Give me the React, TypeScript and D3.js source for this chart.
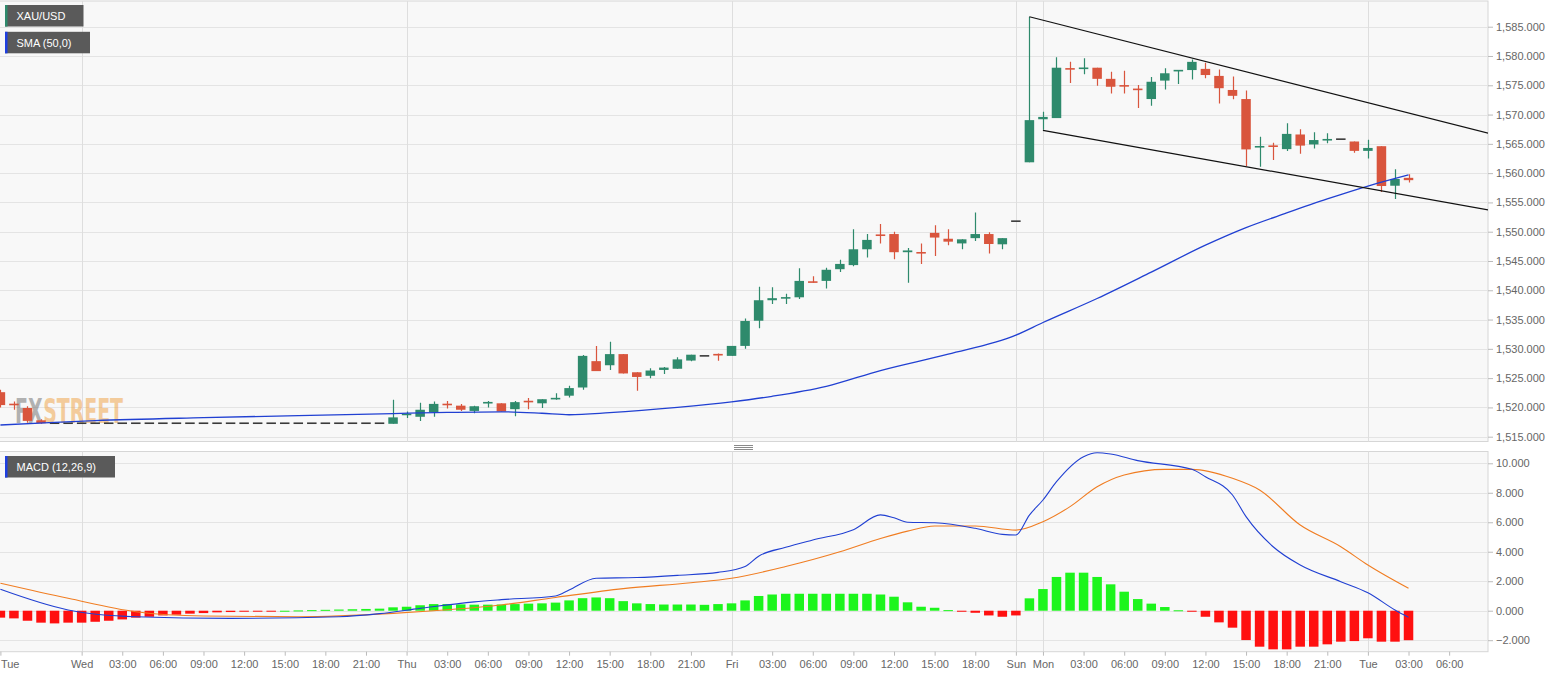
import { useEffect, useRef } from 'react';
import * as d3 from 'd3';

const W = 1565;
const H = 678;
const FONT = '"Liberation Sans", Arial, sans-serif';

// hourly bars, bar index 0 = Wed 00:00, first bar drawn = index -6 (Tue 18:00)
const FIRST = -6;

// [open, high, low, close]
const candles: [number, number, number, number][] = [
  [1522.6, 1523.0, 1520.0, 1520.4], [1520.5, 1521.0, 1519.6, 1520.3], [1519.9, 1520.2, 1517.4, 1517.7],
  [1517.8, 1518.0, 1517.2, 1517.3],
  [1517.3, 1517.3, 1517.3, 1517.3], [1517.3, 1517.3, 1517.3, 1517.3], [1517.3, 1517.3, 1517.3, 1517.3],
  [1517.3, 1517.3, 1517.3, 1517.3], [1517.3, 1517.3, 1517.3, 1517.3], [1517.3, 1517.3, 1517.3, 1517.3],
  [1517.3, 1517.3, 1517.3, 1517.3], [1517.3, 1517.3, 1517.3, 1517.3], [1517.3, 1517.3, 1517.3, 1517.3],
  [1517.3, 1517.3, 1517.3, 1517.3], [1517.3, 1517.3, 1517.3, 1517.3], [1517.3, 1517.3, 1517.3, 1517.3],
  [1517.3, 1517.3, 1517.3, 1517.3], [1517.3, 1517.3, 1517.3, 1517.3], [1517.3, 1517.3, 1517.3, 1517.3],
  [1517.3, 1517.3, 1517.3, 1517.3], [1517.3, 1517.3, 1517.3, 1517.3], [1517.3, 1517.3, 1517.3, 1517.3],
  [1517.3, 1517.3, 1517.3, 1517.3], [1517.3, 1517.3, 1517.3, 1517.3], [1517.3, 1517.3, 1517.3, 1517.3],
  [1517.3, 1517.3, 1517.3, 1517.3], [1517.3, 1517.3, 1517.3, 1517.3], [1517.3, 1517.3, 1517.3, 1517.3],
  [1517.3, 1517.3, 1517.3, 1517.3],
  [1517.2, 1521.3, 1517.2, 1518.3], [1518.6, 1519.3, 1518.2, 1518.8], [1518.4, 1520.8, 1517.7, 1519.6],
  [1519.2, 1521.0, 1518.4, 1520.6], [1520.5, 1521.1, 1519.8, 1520.3], [1520.3, 1520.6, 1519.4, 1519.6],
  [1519.4, 1520.3, 1519.0, 1520.2], [1520.6, 1521.1, 1520.0, 1520.8], [1520.7, 1520.7, 1519.3, 1519.3],
  [1519.7, 1521.1, 1518.5, 1520.9], [1521.0, 1521.6, 1519.7, 1520.9], [1520.7, 1521.4, 1519.9, 1521.4],
  [1521.3, 1522.4, 1521.3, 1521.5], [1522.0, 1523.7, 1521.7, 1523.3], [1523.4, 1528.95, 1523.0, 1528.8],
  [1527.9, 1530.5, 1526.2, 1526.2], [1527.2, 1531.2, 1526.4, 1529.1], [1529.1, 1529.1, 1525.8, 1525.8],
  [1526.0, 1526.0, 1522.85, 1525.2], [1525.4, 1526.7, 1525.0, 1526.3], [1526.4, 1526.9, 1525.7, 1526.8],
  [1526.6, 1528.55, 1526.6, 1528.2], [1528.0, 1529.0, 1527.9, 1529.0], [1528.8, 1528.8, 1528.8, 1528.8],
  [1529.0, 1529.2, 1527.97, 1528.9], [1528.8, 1530.5, 1528.8, 1530.5], [1530.5, 1535.2, 1530.0, 1534.75],
  [1534.8, 1540.6, 1533.5, 1538.3], [1538.3, 1540.5, 1537.65, 1538.65], [1538.5, 1539.4, 1537.65, 1538.7],
  [1538.8, 1543.75, 1538.5, 1541.6], [1541.4, 1542.4, 1541.3, 1541.3], [1541.6, 1543.85, 1540.3, 1543.5],
  [1543.6, 1545.2, 1543.1, 1544.5], [1544.3, 1550.4, 1544.1, 1547.0], [1547.0, 1549.6, 1545.6, 1548.6],
  [1549.4, 1551.3, 1548.0, 1549.2], [1549.6, 1550.0, 1545.3, 1546.5], [1546.5, 1547.2, 1541.3, 1546.8],
  [1546.4, 1548.0, 1544.5, 1546.2], [1549.8, 1551.1, 1545.85, 1549.0], [1548.8, 1550.4, 1547.7, 1548.3],
  [1548.0, 1548.7, 1547.0, 1548.7], [1548.9, 1553.3, 1548.4, 1549.6], [1549.6, 1549.9, 1546.3, 1547.9],
  [1547.85, 1548.9, 1547.0, 1548.9], [1551.8, 1551.8, 1551.8, 1551.8], [1561.85, 1586.7, 1561.85, 1569.05],
  [1569.2, 1570.5, 1567.4, 1569.6], [1569.4, 1579.8, 1569.4, 1578.0], [1577.8, 1579.0, 1575.4, 1577.6],
  [1577.7, 1579.6, 1576.9, 1577.9], [1578.0, 1578.0, 1574.9, 1576.1], [1576.1, 1577.3, 1573.6, 1574.75],
  [1574.9, 1577.5, 1573.6, 1574.7], [1574.3, 1575.05, 1571.1, 1574.1], [1572.65, 1576.4, 1571.5, 1575.6],
  [1575.8, 1577.9, 1574.3, 1577.05], [1577.3, 1577.6, 1575.2, 1577.5], [1577.6, 1579.4, 1576.0, 1579.0],
  [1577.8, 1578.85, 1576.2, 1576.75], [1576.6, 1577.7, 1571.9, 1574.5], [1574.2, 1576.5, 1572.6, 1573.2],
  [1572.65, 1574.1, 1561.2, 1564.05], [1564.3, 1566.2, 1561.1, 1564.5], [1564.6, 1565.2, 1562.25, 1564.4],
  [1564.1, 1568.5, 1563.8, 1566.7], [1566.6, 1567.5, 1563.3, 1564.7], [1564.9, 1567.0, 1564.2, 1565.65],
  [1565.55, 1566.8, 1565.1, 1565.7], [1565.8, 1565.8, 1565.8, 1565.8], [1565.4, 1565.4, 1563.5, 1563.8],
  [1563.8, 1565.7, 1562.5, 1564.3], [1564.6, 1564.6, 1556.8, 1557.8], [1557.85, 1560.65, 1555.6, 1559.0],
  [1559.2, 1559.8, 1558.4, 1558.8],
];

// SMA (50) read at bar indices
const smaPoints: [number, number][] = [
  [-6, 1517.0], [-2, 1517.45], [1, 1517.75], [9, 1518.25], [16, 1518.6], [23, 1518.95], [27, 1519.15],
  [31, 1519.25], [34, 1519.0], [36, 1518.75], [39, 1519.1], [44, 1520.0], [48, 1520.95], [51, 1521.9],
  [55, 1523.6], [59, 1526.3], [64, 1529.1], [69, 1532.35], [71, 1534.5], [75, 1538.6], [79, 1543.1],
  [83, 1547.7], [86, 1550.7], [89, 1553.2], [92, 1555.6], [95, 1557.8], [98, 1559.7],
];

// drawn channel lines [bar index, price]
const channelUpper: [number, number][] = [[70, 1586.7], [103.9, 1566.8]];
const channelLower: [number, number][] = [[71, 1567.3], [103.9, 1553.7]];

// MACD histogram per bar, from index -6
const histogram: number[] = [
  -0.47, -0.52, -0.68, -0.81, -0.86, -0.81, -0.81, -0.75, -0.68, -0.59, -0.47, -0.41, -0.32, -0.27, -0.2,
  -0.16, -0.11, -0.09, -0.07, -0.04, -0.02, 0.0, 0.02, 0.04, 0.06, 0.08, 0.1, 0.12, 0.14, 0.23, 0.27, 0.37,
  0.45, 0.45, 0.43, 0.41, 0.41, 0.42, 0.45, 0.48, 0.5, 0.55, 0.7, 0.85, 0.9, 0.85, 0.65, 0.5, 0.45, 0.42,
  0.42, 0.42, 0.4, 0.45, 0.5, 0.7, 1.0, 1.1, 1.15, 1.15, 1.15, 1.15, 1.15, 1.15, 1.15, 1.1, 0.95, 0.57,
  0.27, 0.2, 0.04, -0.07, -0.14, -0.32, -0.41, -0.32, 0.84, 1.47, 2.29, 2.58, 2.58, 2.29, 1.79, 1.29, 0.79,
  0.48, 0.25, 0.03, -0.07, -0.41, -0.79, -1.15, -1.99, -2.44, -2.62, -2.62, -2.44, -2.44, -2.28, -2.1,
  -2.06, -1.87, -2.1, -2.1, -2.0,
];

const macdPoints: [number, number][] = [
  [-6, 1.45], [-1, 0.05], [4, -0.41], [11, -0.52], [19, -0.41], [22, -0.2], [25, 0.16], [29, 0.6],
  [31, 0.75], [35, 1.0], [36, 1.4], [38, 2.2], [41, 2.25], [44, 2.4], [47, 2.6], [49, 3.0], [50, 3.7],
  [52, 4.3], [54, 4.8], [57, 5.5], [59, 6.5], [60, 6.3], [61, 6.0], [63, 5.97], [66, 5.59], [68, 5.18],
  [69, 5.14], [70, 6.49], [71, 7.51], [72, 8.75], [74, 10.45], [75, 10.72], [76, 10.63], [78, 10.18],
  [82, 9.59], [83, 9.09], [85, 7.85], [86, 6.38], [88, 4.34], [90, 3.1], [93, 1.97], [95, 1.22],
  [97, 0.05], [98, -0.45],
];

const signalPoints: [number, number][] = [
  [-6, 1.86], [-1, 0.84], [4, -0.07], [9, -0.36], [16, -0.41], [23, -0.18], [26, 0.0], [31, 0.39],
  [35, 0.9], [40, 1.5], [45, 1.9], [48, 2.2], [52, 3.0], [56, 4.0], [59, 4.9], [61, 5.4], [63, 5.75],
  [66, 5.75], [69, 5.47], [71, 6.04], [73, 7.06], [75, 8.41], [77, 9.21], [80, 9.59], [82, 9.59],
  [85, 8.98], [87, 8.19], [90, 5.81], [93, 4.34], [95, 3.1], [98, 1.52],
];

const priceTicks = [1515, 1520, 1525, 1530, 1535, 1540, 1545, 1550, 1555, 1560, 1565, 1570, 1575, 1580, 1585];
const macdTicks = [-2, 0, 2, 4, 6, 8, 10];
const timeTickIdx = [
  -6, 0, 3, 6, 9, 12, 15, 18, 21, 24, 27, 30, 33, 36, 39, 42, 45, 48, 51, 54, 57, 60, 63, 66, 69, 71,
  74, 77, 80, 83, 86, 89, 92, 95, 98, 101,
];
const timeTickLabels = [
  'Tue', 'Wed', '03:00', '06:00', '09:00', '12:00', '15:00', '18:00', '21:00', 'Thu', '03:00', '06:00',
  '09:00', '12:00', '15:00', '18:00', '21:00', 'Fri', '03:00', '06:00', '09:00', '12:00', '15:00', '18:00',
  'Sun', 'Mon', '03:00', '06:00', '09:00', '12:00', '15:00', '18:00', '21:00', 'Tue', '03:00', '06:00',
];
const dayLines = [0, 24, 48, 69, 71, 95];

const UP = '#2e8a6c';
const DOWN = '#d9553d';
const FLAT = '#3a3a3a';

export default function App() {
  const svgRef = useRef<SVGSVGElement | null>(null);

  useEffect(() => {
    if (!svgRef.current) return;
    const svg = d3.select(svgRef.current);
    svg.selectAll('*').remove();

    const plotRight = 1488;
    const main = { top: 1, bottom: 441.5 };
    const sub = { top: 451.5, bottom: 651.7 };

    const x = d3.scaleLinear().domain([-6.03, 103.87]).range([0, plotRight]);
    const y = d3.scaleLinear().domain([1514.18, 1589.39]).range([main.bottom, main.top]);
    const ym = d3.scaleLinear().domain([-2.78, 10.8]).range([sub.bottom, sub.top]);
    const bw = 9.5;

    const defs = svg.append('defs');
    defs.append('clipPath').attr('id', 'clipMain').append('rect')
      .attr('x', 0).attr('y', main.top).attr('width', plotRight).attr('height', main.bottom - main.top);
    defs.append('clipPath').attr('id', 'clipSub').append('rect')
      .attr('x', 0).attr('y', sub.top).attr('width', plotRight).attr('height', sub.bottom - sub.top);

    // panel backgrounds
    [main, sub].forEach(p => {
      svg.append('rect')
        .attr('x', -1).attr('y', p.top).attr('width', plotRight + 1).attr('height', p.bottom - p.top)
        .attr('fill', '#f8f8f8').attr('stroke', '#d6d6d6');
    });

    // grid
    svg.append('g').selectAll('line').data(priceTicks).join('line')
      .attr('x1', 0).attr('x2', plotRight)
      .attr('y1', d => Math.round(y(d)) + 0.5).attr('y2', d => Math.round(y(d)) + 0.5)
      .attr('stroke', '#e4e4e4');
    svg.append('g').selectAll('line').data(macdTicks).join('line')
      .attr('x1', 0).attr('x2', plotRight)
      .attr('y1', d => Math.round(ym(d)) + 0.5).attr('y2', d => Math.round(ym(d)) + 0.5)
      .attr('stroke', '#e4e4e4');
    [main, sub].forEach(p => {
      svg.append('g').selectAll('line').data(dayLines).join('line')
        .attr('x1', d => Math.round(x(d)) + 0.5).attr('x2', d => Math.round(x(d)) + 0.5)
        .attr('y1', p.top).attr('y2', p.bottom)
        .attr('stroke', '#dedede');
    });

    // FXStreet logo, squeezed to its width in the picture
    const logo = svg.append('g').attr('opacity', 0.5);
    const fx = logo.append('text').attr('x', 0).attr('y', 0)
      .attr('font-family', '"DejaVu Sans Condensed", "DejaVu Sans", sans-serif')
      .attr('font-weight', 'bold').attr('font-size', 34).attr('fill', '#6d6d6d').text('FX');
    const fxW = (fx.node() as SVGTextElement).getComputedTextLength();
    const st = logo.append('text').attr('x', fxW + 1).attr('y', 0)
      .attr('font-family', '"DejaVu Sans Condensed", "DejaVu Sans", sans-serif')
      .attr('font-weight', 'bold').attr('font-size', 34).attr('fill', '#f0a040').text('STREET');
    const stW = (st.node() as SVGTextElement).getComputedTextLength();
    const sx = 108 / (fxW + 1 + stW || 1);
    logo.attr('transform', `translate(15,423) scale(${sx},1)`);

    // candles
    const gMain = svg.append('g').attr('clip-path', 'url(#clipMain)');
    const bars = candles.map((c, k) => ({ i: FIRST + k, o: c[0], h: c[1], l: c[2], c: c[3] }));
    const colorOf = (d: { o: number; c: number }) => (d.c > d.o ? UP : d.c < d.o ? DOWN : FLAT);

    gMain.selectAll('.wick').data(bars.filter(d => d.h > d.l)).join('line')
      .attr('class', 'wick')
      .attr('x1', d => Math.round(x(d.i)) + 0.5).attr('x2', d => Math.round(x(d.i)) + 0.5)
      .attr('y1', d => y(d.h)).attr('y2', d => y(d.l))
      .attr('stroke', colorOf).attr('stroke-width', 1.2);

    gMain.selectAll('.body').data(bars).join('rect')
      .attr('class', 'body')
      .attr('x', d => x(d.i) - bw / 2)
      .attr('y', d => Math.min(y(d.o), y(d.c)) - (Math.abs(y(d.o) - y(d.c)) < 1.6 ? 0.8 : 0))
      .attr('width', bw)
      .attr('height', d => Math.max(1.6, Math.abs(y(d.o) - y(d.c))))
      .attr('fill', colorOf);

    // SMA
    const line = d3.line<[number, number]>().x(d => x(d[0])).y(d => y(d[1])).curve(d3.curveMonotoneX);
    gMain.append('path').datum(smaPoints).attr('d', line)
      .attr('fill', 'none').attr('stroke', '#2140d2').attr('stroke-width', 1.3);

    // channel
    const straight = d3.line<[number, number]>().x(d => x(d[0])).y(d => y(d[1]));
    [channelUpper, channelLower].forEach(c => {
      gMain.append('path').datum(c).attr('d', straight)
        .attr('fill', 'none').attr('stroke', '#111').attr('stroke-width', 1.2);
    });

    // MACD panel
    const gSub = svg.append('g').attr('clip-path', 'url(#clipSub)');
    const hist = histogram.map((v, k) => ({ i: FIRST + k, v }));
    gSub.selectAll('.hist').data(hist).join('rect')
      .attr('class', 'hist')
      .attr('x', d => x(d.i) - bw / 2)
      .attr('y', d => Math.min(ym(0), ym(d.v)))
      .attr('width', bw)
      .attr('height', d => Math.max(1, Math.abs(ym(d.v) - ym(0))))
      .attr('fill', d => (d.v >= 0 ? '#1cf51c' : '#ff1010'));

    const mline = d3.line<[number, number]>().x(d => x(d[0])).y(d => ym(d[1])).curve(d3.curveMonotoneX);
    gSub.append('path').datum(signalPoints).attr('d', mline)
      .attr('fill', 'none').attr('stroke', '#f07d22').attr('stroke-width', 1.1);
    gSub.append('path').datum(macdPoints).attr('d', mline)
      .attr('fill', 'none').attr('stroke', '#2140d2').attr('stroke-width', 1.1);

    // axes
    const styleAxis = (g: d3.Selection<SVGGElement, unknown, null, undefined>) => {
      g.select('.domain').remove();
      g.selectAll('line').attr('stroke', '#bbb');
      g.selectAll('text').attr('fill', '#666').attr('font-size', 11).attr('font-family', FONT);
    };

    svg.append('g')
      .attr('transform', `translate(${plotRight},0)`)
      .call(d3.axisRight(y).tickValues(priceTicks).tickSize(5).tickPadding(3).tickFormat(d => d3.format(',.3f')(d as number)))
      .call(styleAxis);

    svg.append('g')
      .attr('transform', `translate(${plotRight},0)`)
      .call(d3.axisRight(ym).tickValues(macdTicks).tickSize(5).tickPadding(3).tickFormat(d => d3.format('.3f')(d as number)))
      .call(styleAxis);

    const xAxis = svg.append('g')
      .attr('transform', `translate(0,${sub.bottom})`)
      .call(d3.axisBottom(x).tickValues(timeTickIdx).tickSize(4).tickPadding(5)
        .tickFormat((d, k) => timeTickLabels[k]))
      .call(styleAxis);
    xAxis.selectAll<SVGTextElement, number>('text')
      .filter(d => d === timeTickIdx[0])
      .attr('text-anchor', 'start').attr('x', 0);

    // legend boxes
    const legend = (lx: number, ly: number, w: number, label: string, stripe: string) => {
      svg.append('rect').attr('x', lx).attr('y', ly).attr('width', w).attr('height', 21.5)
        .attr('fill', '#5a5a5a');
      svg.append('rect').attr('x', lx).attr('y', ly).attr('width', 2.5).attr('height', 21.5)
        .attr('fill', stripe);
      svg.append('text').attr('x', lx + 11.5).attr('y', ly + 15)
        .attr('fill', '#fff').attr('font-size', 11).attr('font-family', FONT).text(label);
    };
    legend(5, 5, 78.5, 'XAU/USD', UP);
    legend(5, 31.8, 85, 'SMA (50,0)', '#1f3fe0');
    legend(5, 456, 110, 'MACD (12,26,9)', '#1f3fe0');

    // panel splitter grip
    svg.append('g').selectAll('line').data([445, 447, 449]).join('line')
      .attr('x1', 734).attr('x2', 753).attr('y1', d => d + 0.5).attr('y2', d => d + 0.5)
      .attr('stroke', '#8a8a8a');
  }, []);

  return (
    <>
      <style>{'body{margin:0;background:#fff}'}</style>
      <svg ref={svgRef} width={W} height={H} style={{ display: 'block' }} />
    </>
  );
}
